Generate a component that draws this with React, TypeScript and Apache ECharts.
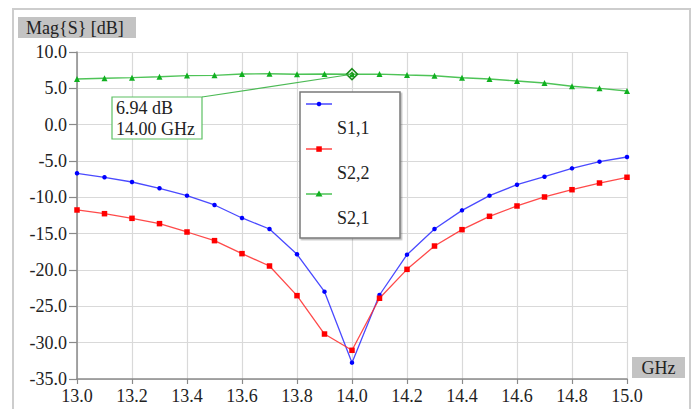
import React, { useEffect, useRef } from "react";
import * as echarts from "echarts";

const freqs = [13.0, 13.1, 13.2, 13.3, 13.4, 13.5, 13.6, 13.7, 13.8, 13.9, 14.0, 14.1, 14.2, 14.3, 14.4, 14.5, 14.6, 14.7, 14.8, 14.9, 15.0];
const s11 = [-6.69, -7.24, -7.89, -8.76, -9.77, -11.05, -12.84, -14.36, -17.84, -22.98, -32.75, -23.44, -17.89, -14.36, -11.79, -9.77, -8.26, -7.16, -6.01, -5.09, -4.45];
const s22 = [-11.74, -12.25, -12.89, -13.62, -14.77, -15.96, -17.75, -19.45, -23.53, -28.81, -31.05, -23.89, -19.91, -16.7, -14.45, -12.61, -11.19, -9.95, -8.95, -8.03, -7.24];
const s21 = [6.28, 6.38, 6.47, 6.6, 6.75, 6.79, 6.97, 7.01, 6.93, 6.97, 6.94, 6.96, 6.84, 6.74, 6.46, 6.28, 6.01, 5.73, 5.28, 5.0, 4.63];
const seriesNames = ["S1,1", "S2,2", "S2,1"];
const markerFreq = 14.0;
const markerValue = 6.94;
const markerLines = ["6.94 dB", "14.00 GHz"];
const yTitle = "Mag{S} [dB]";
const xTitle = "GHz";

const FONT = "'Liberation Serif', 'Times New Roman', 'DejaVu Serif', serif";
const BLUE = "#2a2aff";
const RED = "#ff2a2a";
const GREEN = "#2fb83a";

export default function App() {
  const ref = useRef<HTMLDivElement>(null);
  useEffect(() => {
    document.body.style.margin = "0";
    const chart = echarts.init(ref.current!, null, { renderer: "svg" });
    const pair = (vals: number[]) => freqs.map((f, i) => [f, vals[i]]);
    const axisCommon = {
      axisLine: { show: true, onZero: false, lineStyle: { color: "#8a8a8a", width: 1.5 } },
      axisTick: { show: true, inside: false, lineStyle: { color: "#8a8a8a", width: 1.2 } },
      splitLine: { show: true, lineStyle: { color: "#d9d9d9", width: 1.2 } },
    };
    const option: any = {
      animation: false,
      backgroundColor: "#ffffff",
      textStyle: { fontFamily: FONT },
      grid: { left: 77, top: 52, right: 70, bottom: 30, containLabel: false },
      xAxis: {
        type: "value",
        min: 13,
        max: 15,
        interval: 0.2,
        ...axisCommon,
        axisTick: { ...axisCommon.axisTick, length: 5 },
        axisLabel: {
          formatter: (v: number) => v.toFixed(1),
          fontFamily: FONT,
          fontSize: 18,
          color: "#222",
          margin: 8,
        },
      },
      yAxis: {
        type: "value",
        min: -35,
        max: 10,
        interval: 5,
        ...axisCommon,
        axisTick: { ...axisCommon.axisTick, length: 8 },
        axisLabel: {
          formatter: (v: number) => v.toFixed(1),
          fontFamily: FONT,
          fontSize: 18,
          color: "#222",
          margin: 10,
        },
      },
      series: [
        {
          name: seriesNames[0],
          type: "line",
          data: pair(s11),
          symbol: "circle",
          symbolSize: 4.5,
          itemStyle: { color: "#0000ff" },
          lineStyle: { color: BLUE, width: 1.3, opacity: 0.85 },
          z: 3,
        },
        {
          name: seriesNames[1],
          type: "line",
          data: pair(s22),
          symbol: "rect",
          symbolSize: 5.5,
          itemStyle: { color: "#ff0000" },
          lineStyle: { color: RED, width: 1.3, opacity: 0.85 },
          z: 3,
        },
        {
          name: seriesNames[2],
          type: "line",
          data: pair(s21),
          symbol: "triangle",
          symbolSize: 6,
          itemStyle: { color: "#10b020" },
          lineStyle: { color: GREEN, width: 1.4, opacity: 0.85 },
          z: 3,
          markPoint: {
            silent: true,
            label: { show: false },
            data: [
              {
                coord: [markerFreq, markerValue],
                symbol: "diamond",
                symbolSize: [11, 11],
                itemStyle: { color: "rgba(255,255,255,0)", borderColor: "#1a8a1a", borderWidth: 1.6 },
              },
              {
                coord: [markerFreq, markerValue],
                symbol: "circle",
                symbolSize: 4,
                itemStyle: { color: "#1a9a1a" },
              },
            ],
          },
        },
      ],
    };
    chart.setOption(option);

    const pt = chart.convertToPixel({ gridIndex: 0 }, [markerFreq, markerValue]) as number[];
    const legendX = 300;
    const legendY = 92;
    const legendRows = [
      { color: BLUE, mark: "circle" },
      { color: RED, mark: "rect" },
      { color: GREEN, mark: "triangle" },
    ];
    const legendChildren: any[] = [
      {
        type: "rect",
        shape: { x: 0, y: 0, width: 100, height: 146 },
        style: { fill: "#fff", stroke: "#7a7a7a", lineWidth: 1.5, shadowColor: "rgba(0,0,0,0.25)", shadowOffsetX: 1.5, shadowOffsetY: 1.5, shadowBlur: 1 },
      },
    ];
    legendRows.forEach((r, i) => {
      const ly = 12 + i * 45;
      legendChildren.push({
        type: "line",
        shape: { x1: 6, y1: ly, x2: 32, y2: ly },
        style: { stroke: r.color, lineWidth: 1.3 },
      });
      if (r.mark === "circle") {
        legendChildren.push({ type: "circle", shape: { cx: 19, cy: ly, r: 2.3 }, style: { fill: "#0000ff" } });
      } else if (r.mark === "rect") {
        legendChildren.push({ type: "rect", shape: { x: 16.3, y: ly - 2.7, width: 5.5, height: 5.5 }, style: { fill: "#ff0000" } });
      } else {
        legendChildren.push({ type: "polygon", shape: { points: [[19, ly - 3.5], [22.5, ly + 2.5], [15.5, ly + 2.5]] }, style: { fill: "#10b020" } });
      }
      legendChildren.push({
        type: "text",
        style: { text: seriesNames[i], x: 37, y: ly + 24, fill: "#222", fontSize: 18, fontFamily: FONT, verticalAlign: "middle", align: "left" },
      });
    });

    chart.setOption({
      graphic: [
        {
          type: "rect",
          z: 0,
          silent: true,
          shape: { x: 13, y: 9, width: 677, height: 420 },
          style: { fill: "none", stroke: "#cdcdcd", lineWidth: 2 },
        },
        {
          type: "rect",
          z: 10,
          shape: { x: 18, y: 17, width: 118, height: 21 },
          style: { fill: "#c3c3c3" },
        },
        {
          type: "text",
          z: 11,
          style: { text: yTitle, x: 26, y: 28, fill: "#222", fontSize: 18, fontFamily: FONT, verticalAlign: "middle" },
        },
        {
          type: "rect",
          z: 10,
          shape: { x: 632, y: 357, width: 53, height: 21 },
          style: { fill: "#c3c3c3" },
        },
        {
          type: "text",
          z: 11,
          style: { text: xTitle, x: 658.5, y: 368, fill: "#222", fontSize: 18, fontFamily: FONT, verticalAlign: "middle", align: "center" },
        },
        {
          type: "line",
          z: 9,
          shape: { x1: 202, y1: 97, x2: pt[0], y2: pt[1] },
          style: { stroke: "#4cba55", lineWidth: 1.2 },
        },
        {
          type: "rect",
          z: 10,
          shape: { x: 112, y: 97, width: 90, height: 42 },
          style: { fill: "#fff", stroke: "#5cc063", lineWidth: 1.2 },
        },
        {
          type: "text",
          z: 11,
          style: { text: markerLines[0], x: 116, y: 108, fill: "#222", fontSize: 18, fontFamily: FONT, verticalAlign: "middle" },
        },
        {
          type: "text",
          z: 11,
          style: { text: markerLines[1], x: 116, y: 128.5, fill: "#222", fontSize: 18, fontFamily: FONT, verticalAlign: "middle" },
        },
        {
          type: "group",
          z: 12,
          x: legendX,
          y: legendY,
          children: legendChildren,
        },
      ],
    });
    return () => chart.dispose();
  }, []);
  return <div ref={ref} style={{ width: 697, height: 409 }} />;
}
